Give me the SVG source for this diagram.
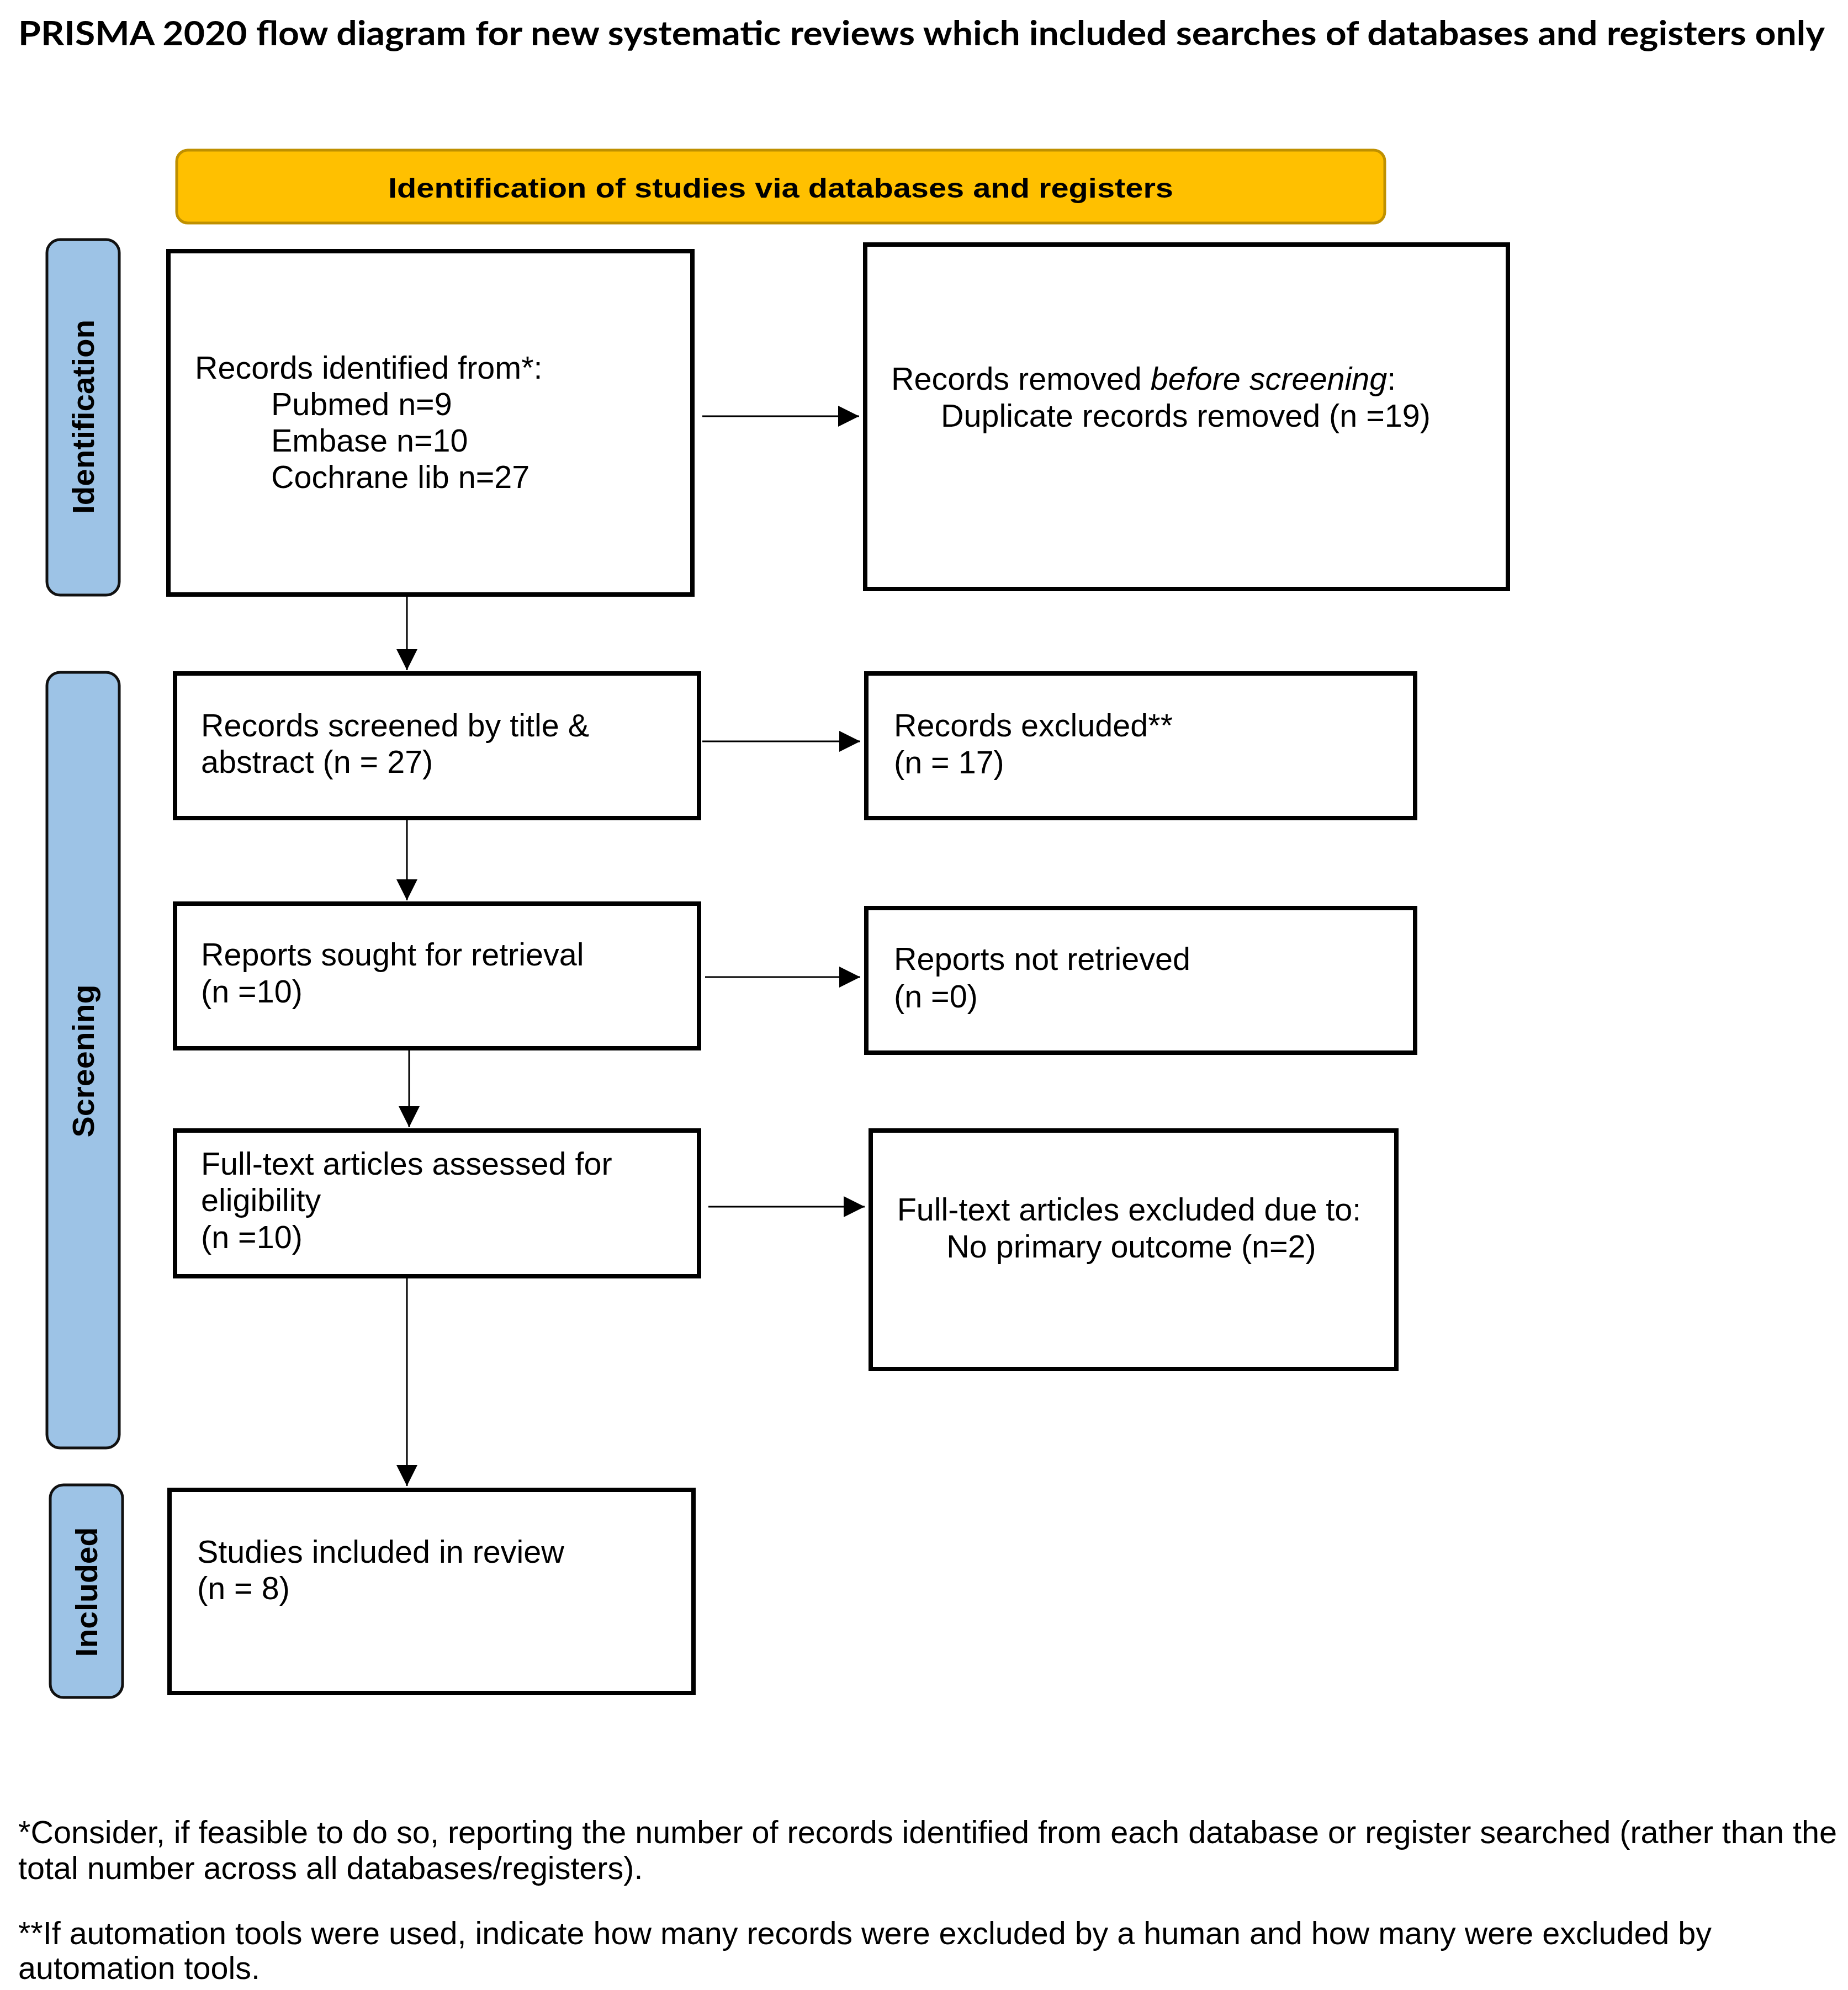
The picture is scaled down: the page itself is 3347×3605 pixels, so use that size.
<svg xmlns="http://www.w3.org/2000/svg" width="3347" height="3605" viewBox="0 0 3347 3605">
<style>
.box{fill:#ffffff;stroke:#000000;stroke-width:8}
.side{fill:#9DC3E6;stroke:#111111;stroke-width:5}
.banner{fill:#FFC000;stroke:#BF9000;stroke-width:5}
.t{font-family:"Liberation Sans",Arial,sans-serif;font-size:57.5px;fill:#000000}
.sl{font-family:"Liberation Sans",Arial,sans-serif;font-size:56px;font-weight:bold;fill:#000000}
.ln{stroke:#000000;stroke-width:3;fill:none}
</style>
<defs>
<marker id="ah" markerUnits="userSpaceOnUse" markerWidth="40" markerHeight="40" refX="38" refY="19" orient="auto">
<path d="M0,0 L38,19 L0,38 z" fill="#000000"/>
</marker>
</defs>
<rect width="3347" height="3605" fill="#ffffff"/>
<text x="33" y="82" font-family="Lato,'Open Sans',sans-serif" font-weight="bold" font-size="62" textLength="3272" lengthAdjust="spacingAndGlyphs" fill="#000">PRISMA 2020 flow diagram for new systematic reviews which included searches of databases and registers only</text>

<g id="banner">
<rect class="banner" x="320" y="272" width="2188" height="132" rx="20"/>
<text x="1414" y="358" text-anchor="middle" font-family="'Liberation Sans',Arial,sans-serif" font-weight="bold" font-size="50" textLength="1422" lengthAdjust="spacingAndGlyphs">Identification of studies via databases and registers</text>
</g>

<g id="side-identification">
<rect class="side" x="85" y="434" width="131" height="644" rx="24"/>
<text class="sl" transform="translate(170,755) rotate(-90)" text-anchor="middle" textLength="352" lengthAdjust="spacingAndGlyphs">Identification</text>
</g>
<g id="side-screening">
<rect class="side" x="85" y="1218" width="131" height="1405" rx="24"/>
<text class="sl" transform="translate(170,1922) rotate(-90)" text-anchor="middle" textLength="277" lengthAdjust="spacingAndGlyphs">Screening</text>
</g>
<g id="side-included">
<rect class="side" x="91" y="2690" width="131" height="385" rx="24"/>
<text class="sl" transform="translate(176,2884) rotate(-90)" text-anchor="middle" textLength="235" lengthAdjust="spacingAndGlyphs">Included</text>
</g>

<g id="connectors">
<line class="ln" x1="1272" y1="754" x2="1556" y2="754" marker-end="url(#ah)"/>
<line class="ln" x1="737" y1="1080" x2="737" y2="1214" marker-end="url(#ah)"/>
<line class="ln" x1="1272" y1="1343" x2="1558" y2="1343" marker-end="url(#ah)"/>
<line class="ln" x1="737" y1="1485" x2="737" y2="1631" marker-end="url(#ah)"/>
<line class="ln" x1="1277" y1="1770" x2="1558" y2="1770" marker-end="url(#ah)"/>
<line class="ln" x1="741" y1="1902" x2="741" y2="2042" marker-end="url(#ah)"/>
<line class="ln" x1="1283" y1="2186" x2="1566" y2="2186" marker-end="url(#ah)"/>
<line class="ln" x1="737" y1="2315" x2="737" y2="2692" marker-end="url(#ah)"/>
</g>

<g id="records-identified">
<rect class="box" x="305" y="455" width="949" height="622"/>
<text class="t" x="353" y="686">Records identified from*:</text>
<text class="t" x="491" y="752">Pubmed n=9</text>
<text class="t" x="491" y="818">Embase n=10</text>
<text class="t" x="491" y="884">Cochrane lib n=27</text>
</g>

<g id="records-removed">
<rect class="box" x="1567" y="443" width="1164" height="624"/>
<text class="t" x="1614" y="706">Records removed <tspan font-style="italic">before screening</tspan>:</text>
<text class="t" x="1704" y="773">Duplicate records removed (n =19)</text>
</g>

<g id="records-screened">
<rect class="box" x="317" y="1220" width="949" height="262"/>
<text class="t" x="364" y="1334">Records screened by title &amp;</text>
<text class="t" x="364" y="1400">abstract (n = 27)</text>
</g>

<g id="records-excluded">
<rect class="box" x="1569" y="1220" width="994" height="262"/>
<text class="t" x="1619" y="1334">Records excluded**</text>
<text class="t" x="1619" y="1401">(n = 17)</text>
</g>

<g id="reports-sought">
<rect class="box" x="317" y="1637" width="949" height="262"/>
<text class="t" x="364" y="1749">Reports sought for retrieval</text>
<text class="t" x="364" y="1816">(n =10)</text>
</g>

<g id="reports-not-retrieved">
<rect class="box" x="1569" y="1645" width="994" height="262"/>
<text class="t" x="1619" y="1757">Reports not retrieved</text>
<text class="t" x="1619" y="1825">(n =0)</text>
</g>

<g id="full-text-assessed">
<rect class="box" x="317" y="2048" width="949" height="264"/>
<text class="t" x="364" y="2128">Full-text articles assessed for</text>
<text class="t" x="364" y="2194">eligibility</text>
<text class="t" x="364" y="2261">(n =10)</text>
</g>

<g id="full-text-excluded">
<rect class="box" x="1577" y="2048" width="952" height="432"/>
<text class="t" x="2045" y="2211" text-anchor="middle">Full-text articles excluded due to:</text>
<text class="t" x="2049" y="2278" text-anchor="middle">No primary outcome (n=2)</text>
</g>

<g id="studies-included">
<rect class="box" x="307" y="2699" width="949" height="368"/>
<text class="t" x="357" y="2831">Studies included in review</text>
<text class="t" x="357" y="2897">(n = 8)</text>
</g>

<g id="footnotes">
<text class="t" x="33" y="3339" textLength="3294" lengthAdjust="spacingAndGlyphs">*Consider, if feasible to do so, reporting the number of records identified from each database or register searched (rather than the</text>
<text class="t" x="33" y="3404">total number across all databases/registers).</text>
<text class="t" x="33" y="3522" textLength="3067" lengthAdjust="spacingAndGlyphs">**If automation tools were used, indicate how many records were excluded by a human and how many were excluded by</text>
<text class="t" x="33" y="3585">automation tools.</text>
</g>
</svg>
